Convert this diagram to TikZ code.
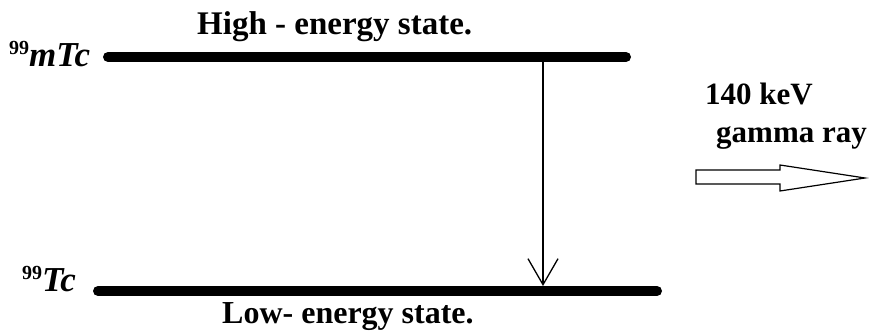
\documentclass[tikz,border=0pt]{standalone}
\usepackage{fontspec}
\setmainfont{Liberation Serif}
\usetikzlibrary{arrows.meta}
\begin{document}
\begin{tikzpicture}[x=1pt,y=-1pt,
  level/.style={line width=10pt,line cap=round},
  lbl/.style={font=\fontsize{31}{31}\selectfont\bfseries,inner sep=0pt},
  iso/.style={inner sep=0pt,anchor=base west},
  trans/.style={line width=1.3pt,-{Straight Barb[length=26pt,width=30pt,line width=1.3pt]}}]
\useasboundingbox (0,0) rectangle (871,331);
% levels
\coordinate (h1) at (108,57);
\coordinate (h2) at (626,57);
\coordinate (l1) at (98,291);
\coordinate (l2) at (657,291);
\draw[level] (h1) -- (h2);
\draw[level] (l1) -- (l2);
% labels of levels
\node[iso] (mtc) at (9,67) {\fontsize{20}{20}\selectfont\bfseries\raisebox{12pt}{99}\fontsize{35}{35}\selectfont\bfseries\itshape mTc};
\node[iso] (tc) at (22,292) {\fontsize{20}{20}\selectfont\bfseries\raisebox{12pt}{99}\fontsize{35}{35}\selectfont\bfseries\itshape Tc};
\node[lbl,anchor=base west,font=\fontsize{33}{33}\selectfont\bfseries] (high) at (197,35) {High - energy state.};
\node[lbl,anchor=base west,font=\fontsize{32}{32}\selectfont\bfseries] (low) at (222,324) {Low- energy state.};
% transition
\coordinate (ts) at (543,62);
\coordinate (te) at (543,286);
\draw[trans] (ts) -- (te);
% gamma ray
\node[lbl,anchor=base west] (kev) at (705,105) {140 keV};
\node[lbl,anchor=base west] (gam) at (716,143) {gamma ray};
\draw[line width=1.2pt,fill=white,line join=miter]
  (696,170) -- (780,170) -- (780,165) -- (865,178) -- (780,191) -- (780,184) -- (696,184) -- cycle;
\end{tikzpicture}
\end{document}
